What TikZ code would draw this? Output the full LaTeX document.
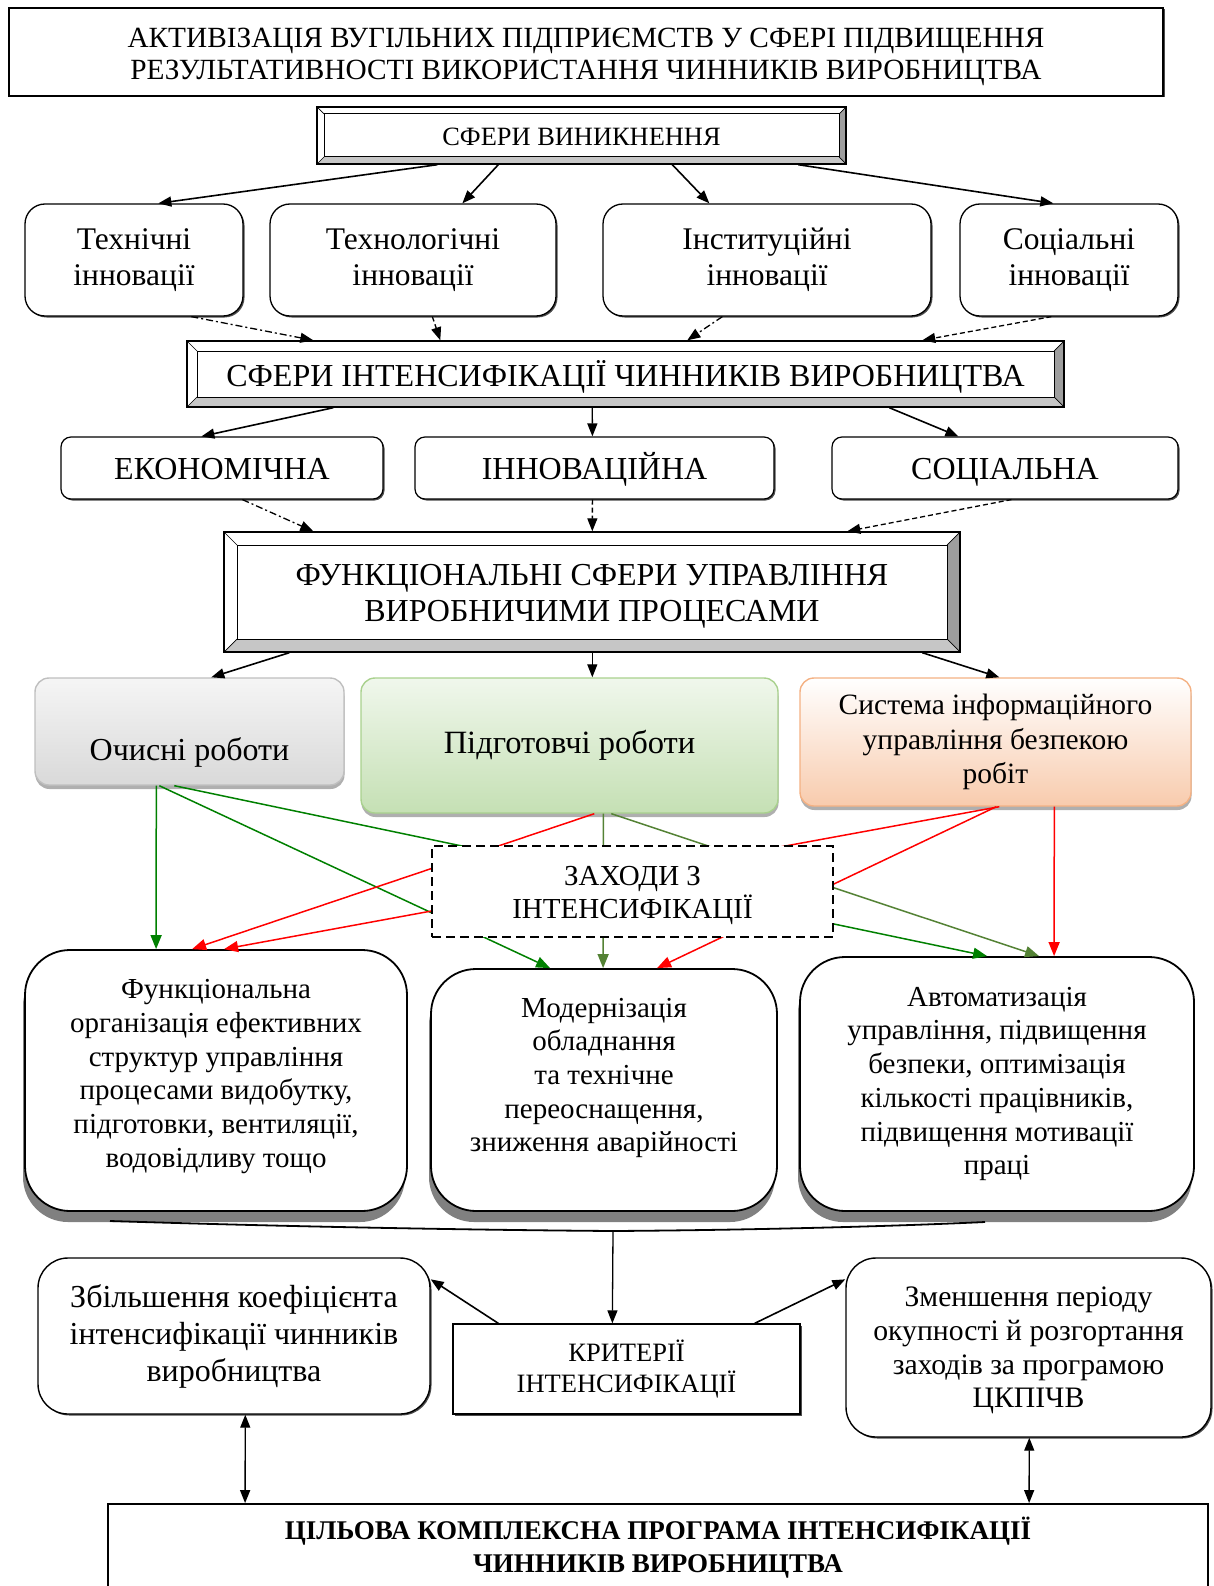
\documentclass[tikz,border=0pt]{standalone}
\usepackage{fontspec}
\setmainfont{Liberation Serif}
\usetikzlibrary{arrows.meta,shadows}
\newcommand\fsz[2]{\fontsize{#1pt}{#2pt}\selectfont}
\definecolor{grn}{HTML}{008000}
\definecolor{olv}{HTML}{548235}
\definecolor{rd}{HTML}{FF0000}
\definecolor{bevR}{HTML}{9E9E9E}
\definecolor{bevB}{HTML}{C6C6C6}
\definecolor{grayLine}{HTML}{BFBFBF}
\definecolor{grayTop}{HTML}{F5F5F5}
\definecolor{grayBot}{HTML}{D9D9D9}
\definecolor{greenLine}{HTML}{A9D18E}
\definecolor{greenTop}{HTML}{F0F7EC}
\definecolor{greenBot}{HTML}{C5E0B4}
\definecolor{orLine}{HTML}{F4B183}
\definecolor{orBot}{HTML}{F8CBAD}
\tikzset{
  every node/.style={inner sep=0pt, align=center, anchor=center},
  sz/.style 2 args={minimum width=#1pt, minimum height=#2pt},
  sshadow/.style={drop shadow={shadow xshift=1.5pt, shadow yshift=-1.5pt, fill=black, opacity=0.7}},
  plainbox/.style={draw, line width=1.3pt, fill=white, sshadow},
  bevel/.style={draw, line width=1.4pt, fill=white,
    path picture={
      \coordinate (oSW) at (path picture bounding box.south west);
      \coordinate (oSE) at (path picture bounding box.south east);
      \coordinate (oNE) at (path picture bounding box.north east);
      \coordinate (oNW) at (path picture bounding box.north west);
      \coordinate (iSW) at ([xshift=#1pt,yshift=#1pt]oSW);
      \coordinate (iSE) at ([xshift=-#1pt,yshift=#1pt]oSE);
      \coordinate (iNE) at ([xshift=-#1pt,yshift=-#1pt]oNE);
      \coordinate (iNW) at ([xshift=#1pt,yshift=-#1pt]oNW);
      \fill[bevR] (oSE) -- (oNE) -- (iNE) -- (iSE) -- cycle;
      \fill[bevB] (oSW) -- (oSE) -- (iSE) -- (iSW) -- cycle;
      \draw[line width=1pt] (iSW) rectangle (iNE);
      \draw[line width=0.7pt] (oSW) -- (iSW) (oSE) -- (iSE) (oNE) -- (iNE) (oNW) -- (iNW);
    }},
  inno/.style={draw, line width=1.3pt, rounded corners=20pt, fill=white, sshadow, font=\fsz{31.5}{36}},
  lvl/.style={draw, line width=1.2pt, rounded corners=10pt, fill=white, sshadow, font=\fsz{32}{36},
    text height=30pt, text depth=7pt},
  gbox/.style={rounded corners=14pt, line width=1.4pt,
    drop shadow={shadow xshift=0.5pt, shadow yshift=-4pt, fill=black!35, opacity=0.9}},
  bigbox/.style={draw, line width=1.8pt, rounded corners=45pt, fill=white,
    drop shadow={shadow xshift=-2pt, shadow yshift=-11pt, fill=black!50, opacity=1}},
  bigtxt/.style={font=\fsz{29}{33.7}, align=center},
  critbox/.style={draw, line width=1.4pt, rounded corners=30pt, fill=white, sshadow},
  karr/.style={-{Triangle[length=13pt,width=10pt]}, line width=1.6pt},
  darr/.style={{Triangle[length=13pt,width=10pt]}-{Triangle[length=13pt,width=10pt]}, line width=1.4pt},
  ddot/.style={line width=1.3pt, dash pattern=on 7pt off 3pt on 2pt off 3pt},
  dsh/.style={line width=1.3pt, dash pattern=on 5pt off 3pt},
  carr/.style={-{Triangle[length=14pt,width=11pt]}, line width=1.5pt, draw=#1},
}
\begin{document}
\begin{tikzpicture}[x=1pt,y=-1pt]
\path[use as bounding box] (0,0) rectangle (1213,1586);
\clip (0,0) rectangle (1213,1586);

% ---------- header ----------
\node[plainbox, sz={1154}{88},
  label={[font=\fsz{29.3}{32.5}, yshift=-5pt]center:{АКТИВІЗАЦІЯ ВУГІЛЬНИХ ПІДПРИЄМСТВ У СФЕРІ ПІДВИЩЕННЯ\\РЕЗУЛЬТАТИВНОСТІ ВИКОРИСТАННЯ ЧИННИКІВ ВИРОБНИЦТВА}}] (title) at (586,52) {};

\node[bevel=7, sz={529}{57}, font=\fsz{26.4}{30}, text height=27pt, text depth=6pt] (sv) at (581.5,135.5)
  {СФЕРИ ВИНИКНЕННЯ};

% ---------- kinds of innovation ----------
\node[inno, sz={218}{112}] (i1) at (134,260) {Технічні\\інновації};
\node[inno, sz={286}{112}] (i2) at (413,260) {Технологічні\\інновації};
\node[inno, sz={328}{112}] (i3) at (767,260) {Інституційні\\інновації};
\node[inno, sz={218}{112}] (i4) at (1069,260) {Соціальні\\інновації};

\node[bevel=10, sz={877}{66}, font=\fsz{32}{36}, text height=31pt, text depth=7pt] (si) at (625.5,374)
  {СФЕРИ ІНТЕНСИФІКАЦІЇ ЧИННИКІВ ВИРОБНИЦТВА};

% ---------- spheres ----------
\node[lvl, sz={322}{62}] (e1) at (222,468) {ЕКОНОМІЧНА};
\node[lvl, sz={359}{62}] (e2) at (594.5,468) {ІННОВАЦІЙНА};
\node[lvl, sz={346}{62}] (e3) at (1005,468) {СОЦІАЛЬНА};

\node[bevel=13, sz={736}{120},
  label={[font=\fsz{32}{36}, yshift=-4pt]center:{ФУНКЦІОНАЛЬНІ СФЕРИ УПРАВЛІННЯ\\ВИРОБНИЧИМИ ПРОЦЕСАМИ}}] (fs) at (592,592) {};

% ---------- works ----------
\node[gbox, draw=grayLine, top color=grayTop, bottom color=grayBot, sz={309}{107},
  label={[font=\fsz{32}{36}, yshift=-21pt]center:Очисні роботи}] (w1) at (189.5,731.5) {};
\node[gbox, draw=greenLine, top color=greenTop, bottom color=greenBot, sz={417}{135},
  font=\fsz{32.5}{36}] (w2) at (569.5,745.5) {Підготовчі роботи};
\node[gbox, draw=orLine, top color=white, bottom color=orBot, sz={391}{128},
  font=\fsz{29.5}{34.5}] (w3) at (995.5,742) {Система інформаційного\\управління безпекою\\робіт};

% ---------- results ----------
\node[bigbox, sz={382}{261},
  label={[bigtxt, yshift=4pt]center:{Функціональна\\організація ефективних\\структур управління\\процесами видобутку,\\підготовки, вентиляції,\\водовідливу тощо}}] (b1) at (216,1080.5) {};
\node[bigbox, sz={346}{242},
  label={[bigtxt, yshift=12pt]center:{Модернізація\\обладнання\\та технічне\\переоснащення,\\зниження аварійності}}] (b2) at (604,1090) {};
\node[bigbox, sz={394}{254},
  label={[bigtxt, yshift=0pt]center:{Автоматизація\\управління, підвищення\\безпеки, оптимізація\\кількості працівників,\\підвищення мотивації\\праці}}] (b3) at (997,1084) {};

% ---------- criteria ----------
\node[plainbox, sz={347}{90}, font=\fsz{26.5}{31}] (kr) at (626.5,1369) {КРИТЕРІЇ\\ІНТЕНСИФІКАЦІЇ};
\node[critbox, sz={392}{156}, font=\fsz{32}{37}] (c1) at (234,1336)
  {Збільшення коефіцієнта\\інтенсифікації чинників\\виробництва};
\node[critbox, sz={365}{179},
  label={[font=\fsz{29.7}{33.7}, yshift=-3pt]center:{Зменшення періоду\\окупності й розгортання\\заходів за програмою\\ЦКПІЧВ}}] (c2) at (1028.5,1347.5) {};
\node[draw, line width=1.8pt, fill=white, sz={1100}{87}, font=\bfseries\fsz{27}{33}] (tp) at (658,1547.5)
  {ЦІЛЬОВА КОМПЛЕКСНА ПРОГРАМА ІНТЕНСИФІКАЦІЇ\\ЧИННИКІВ ВИРОБНИЦТВА};

% ---------- black connectors ----------
\draw[karr] ([xshift=121pt]sv.south west) -- ([xshift=134pt]i1.north west);
\draw[karr] ([xshift=182pt]sv.south west) -- ([xshift=193pt]i2.north west);
\draw[karr] ([xshift=356pt]sv.south west) -- ([xshift=107pt]i3.north west);
\draw[karr] ([xshift=482pt]sv.south west) -- ([xshift=94pt]i4.north west);

\draw[karr, ddot] ([xshift=167pt]i1.south west) -- ([xshift=127pt]si.north west);
\draw[karr, dsh]  ([xshift=163pt]i2.south west) -- ([xshift=254pt]si.north west);
\draw[karr, ddot] ([xshift=120pt]i3.south west) -- ([xshift=501pt]si.north west);
\draw[karr, dsh]  ([xshift=92pt]i4.south west) -- ([xshift=736pt]si.north west);

\draw[karr] ([xshift=147pt]si.south west) -- ([xshift=141pt]e1.north west);
\draw[karr, line width=1.3pt] ([xshift=406pt]si.south west) -- ([xshift=178pt]e2.north west);
\draw[karr] ([xshift=703pt]si.south west) -- ([xshift=127pt]e3.north west);

\draw[karr, ddot] ([xshift=182pt]e1.south west) -- ([xshift=90pt]fs.north west);
\draw[karr, dsh]  ([xshift=178pt]e2.south west) -- ([xshift=369pt]fs.north west);
\draw[karr, dsh]  ([xshift=180pt]e3.south west) -- ([xshift=624pt]fs.north west);

\draw[karr] ([xshift=66pt]fs.south west) -- ([xshift=177pt]w1.north west);
\draw[karr, line width=1.3pt] ([xshift=369pt]fs.south west) -- ([xshift=232pt]w2.north west);
\draw[karr] ([xshift=699pt]fs.south west) -- ([xshift=200pt]w3.north west);

% ---------- coloured connectors (pass under the measures box) ----------
\draw[carr=grn] ([xshift=122pt]w1.south west) -- ([xshift=132pt]b1.north west);
\draw[carr=grn] ([xshift=125pt]w1.south west) -- ([xshift=120pt]b2.north west);
\draw[carr=grn] ([xshift=140pt]w1.south west) -- ([xshift=188pt]b3.north west);
\draw[carr=olv] ([xshift=243pt]w2.south west) -- ([xshift=173pt]b2.north west);
\draw[carr=olv] ([xshift=251pt]w2.south west) -- ([xshift=240pt]b3.north west);
\draw[carr=rd] ([xshift=234pt]w2.south west) -- ([xshift=168pt]b1.north west);
\draw[carr=rd] ([xshift=200pt]w3.south west) -- ([xshift=200pt]b1.north west);
\draw[carr=rd] ([xshift=197pt]w3.south west) -- ([xshift=227pt]b2.north west);
\draw[carr=rd] ([xshift=255pt]w3.south west) -- ([xshift=255pt]b3.north west);

\node[draw, fill=white, line width=2pt, dash pattern=on 9pt off 5pt, sz={401}{91},
  label={[font=\fsz{29}{33}, yshift=-4pt]center:{ЗАХОДИ З\\ІНТЕНСИФІКАЦІЇ}}] (zh) at (632.5,891.5) {};

% ---------- brace gathering the results ----------
\coordinate (brM) at (613,1231);
\draw[line width=1.8pt] (110,1221) .. controls (300,1227) and (480,1230) .. (brM)
  .. controls (760,1230) and (900,1226) .. (985,1222);

\draw[karr, line width=1.3pt] (brM) -- ([xshift=160pt]kr.north west);
\draw[karr] ([xshift=46pt]kr.north west) -- ([yshift=-22pt]c1.north east);
\draw[karr] ([xshift=-46pt]kr.north east) -- ([yshift=-22pt]c2.north west);
\draw[darr] ([xshift=208pt]c1.south west) -- ([xshift=138pt]tp.north west);
\draw[darr] ([xshift=184pt]c2.south west) -- ([xshift=922pt]tp.north west);
\end{tikzpicture}
\end{document}
